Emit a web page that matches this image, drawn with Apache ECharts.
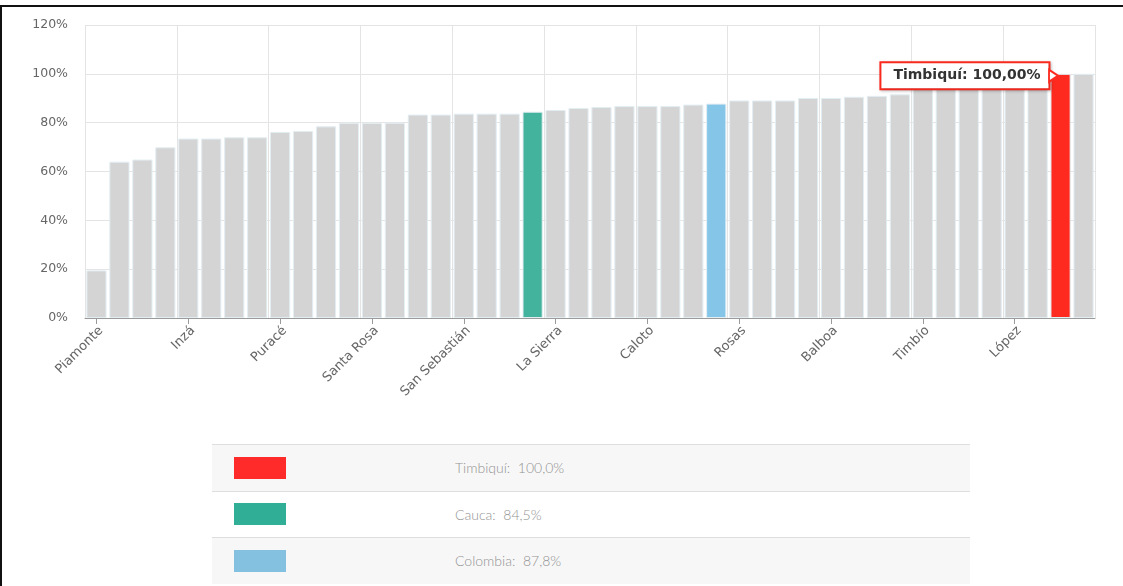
<!DOCTYPE html>
<html>
<head>
<meta charset="utf-8">
<script src="https://cdn.jsdelivr.net/npm/echarts@6/dist/echarts.min.js"></script>
<style>
  html, body { margin: 0; padding: 0; background: #fff; }
  #wrap { position: relative; width: 1123px; height: 586px; overflow: hidden; }
  #chart { position: absolute; left: 0; top: 0; width: 1123px; height: 586px; }
  #frame { position: absolute; left: 0; top: 5px; width: 1123px; height: 590px;
           border-top: 2px solid #111; border-left: 2px solid #111; box-sizing: border-box; pointer-events: none; }
  #legendTable { position: absolute; left: 212px; top: 444px; width: 758px; border-collapse: collapse; }
  #legendTable td { height: 45.5px; border-top: 1px solid #dedede; padding: 0; vertical-align: middle; }
  #legendTable tr:nth-child(odd) td { background: #f7f7f7; }
  #legendTable tr:nth-child(even) td { background: #ffffff; }
  .sw { display: block; width: 52px; height: 22px; margin-left: 22px; }
  .tx { font-family: 'Lato', 'DejaVu Sans', sans-serif; font-weight: 300; font-size: 14px; color: #939393; white-space: pre; padding-left: 0; }
</style>
</head>
<body>
<div id="wrap">
  <div id="chart"></div>
  <table id="legendTable"></table>
  <div id="frame"></div>
</div>
<script>
// ---------- data ----------
const categories = [
  'Piamonte', 'Argelia', 'Guapí', 'Jambaló', 'Inzá', 'Páez', 'Toribío', 'Almaguer',
  'Puracé', 'Caldono', 'Silvia', 'Totoró', 'Santa Rosa', 'Bolívar', 'Morales', 'Sucre',
  'San Sebastián', 'Cajibío', 'La Vega', 'Cauca', 'La Sierra', 'Suárez', 'Buenos Aires', 'Mercaderes',
  'Caloto', 'Florencia', 'El Tambo', 'Colombia', 'Rosas', 'Patía', 'Sotará', 'Piendamó',
  'Balboa', 'Corinto', 'Miranda', 'Guachené', 'Timbío', 'Padilla', 'Santander de Quilichao', 'Puerto Tejada',
  'López', 'Villa Rica', 'Timbiquí', 'Popayán'
];
const values = [
  19.5, 64.0, 64.9, 69.9, 73.5, 73.5, 74.0, 74.0,
  76.2, 76.6, 78.5, 79.9, 79.9, 80.0, 83.3, 83.3,
  83.7, 83.7, 83.7, 84.5, 85.2, 86.0, 86.4, 86.8,
  86.8, 86.8, 87.4, 87.8, 89.1, 89.1, 89.1, 90.1,
  90.1, 90.6, 91.0, 91.6, 95.0, 95.8, 96.7, 97.6,
  98.5, 99.3, 100.0, 100.0
];
const yTicks = [0, 20, 40, 60, 80, 100, 120];
const selectedName = 'Timbiquí';
const departmentName = 'Cauca';
const countryName = 'Colombia';
const legendNames = [selectedName, departmentName, countryName];

// ---------- styles ----------
const GREY = '#d4d4d4';
const RED = '#ff2a1f';
const GREEN = '#43b39d';
const BLUE = '#84c5e8';
const LEGEND_COLORS = { [selectedName]: '#ff2b2b', [departmentName]: '#31ae96', [countryName]: '#84c1e1' };
const BAR_COLORS = { [selectedName]: RED, [departmentName]: GREEN, [countryName]: BLUE };
const FONT = 'DejaVu Sans, Verdana, sans-serif';

function fmt(v, d) { return v.toFixed(d).replace('.', ','); }

const seriesData = categories.map((name, i) => {
  const item = { value: values[i], itemStyle: { color: BAR_COLORS[name] || GREY } };
  if (name === selectedName) {
    item.label = {
      show: true,
      position: [-2, 2],
      align: 'right',
      verticalAlign: 'middle',
      formatter: name + ': ' + fmt(values[i], 2) + '%',
      backgroundColor: '#ffffff',
      borderColor: RED,
      borderWidth: 2,
      padding: [6, 8, 5, 12],
      color: '#333',
      fontWeight: 'bold',
      fontSize: 14,
      fontFamily: FONT,
      shadowColor: 'rgba(0,0,0,0.25)',
      shadowBlur: 3,
      shadowOffsetX: 1,
      shadowOffsetY: 1
    };
  }
  return item;
});

const selIdx = categories.indexOf(selectedName);

const chart = echarts.init(document.getElementById('chart'), null, { renderer: 'canvas' });
chart.setOption({
  animation: false,
  backgroundColor: 'transparent',
  grid: { left: 85, right: 28, top: 25, bottom: 268 },
  xAxis: {
    type: 'category',
    data: categories,
    axisLine: { show: true, lineStyle: { color: '#9a9a9a', width: 1 } },
    axisTick: { show: true, alignWithLabel: true, interval: 3, length: 6, lineStyle: { color: '#9a9a9a' } },
    axisLabel: {
      interval: 3, rotate: 45, color: '#666', fontSize: 13, margin: 6,
      verticalAlign: 'top',
      fontFamily: FONT
    },
    splitLine: { show: true, interval: 3, lineStyle: { color: '#e4e4e4', width: 1 } }
  },
  yAxis: {
    type: 'value',
    min: yTicks[0],
    max: yTicks[yTicks.length - 1],
    interval: yTicks[1] - yTicks[0],
    axisLine: { show: false },
    axisTick: { show: false },
    axisLabel: {
      formatter: '{value}%', color: '#666', fontSize: 12.5, margin: 17,
      fontFamily: FONT
    },
    splitLine: { show: true, lineStyle: { color: '#e4e4e4', width: 1 } }
  },
  series: [{
    type: 'bar',
    data: seriesData,
    barCategoryGap: '12%',
    itemStyle: { borderColor: '#e3eef3', borderWidth: 1 },
    markPoint: {
      silent: true,
      symbol: 'triangle',
      symbolSize: [12, 9],
      symbolRotate: -90,
      symbolOffset: [-7, 2],
      itemStyle: { color: '#ffffff', borderColor: RED, borderWidth: 2 },
      label: { show: false },
      data: [{ coord: [selIdx, values[selIdx]] }]
    }
  }]
});

// ---------- legend table ----------
const table = document.getElementById('legendTable');
legendNames.forEach(name => {
  const v = values[categories.indexOf(name)];
  const tr = document.createElement('tr');
  const td1 = document.createElement('td');
  td1.style.width = '243px';
  const sw = document.createElement('span');
  sw.className = 'sw';
  sw.style.background = LEGEND_COLORS[name];
  td1.appendChild(sw);
  const td2 = document.createElement('td');
  td2.className = 'tx';
  td2.textContent = name + ':  ' + fmt(v, 1) + '%';
  tr.appendChild(td1);
  tr.appendChild(td2);
  table.appendChild(tr);
});
</script>
</body>
</html>
